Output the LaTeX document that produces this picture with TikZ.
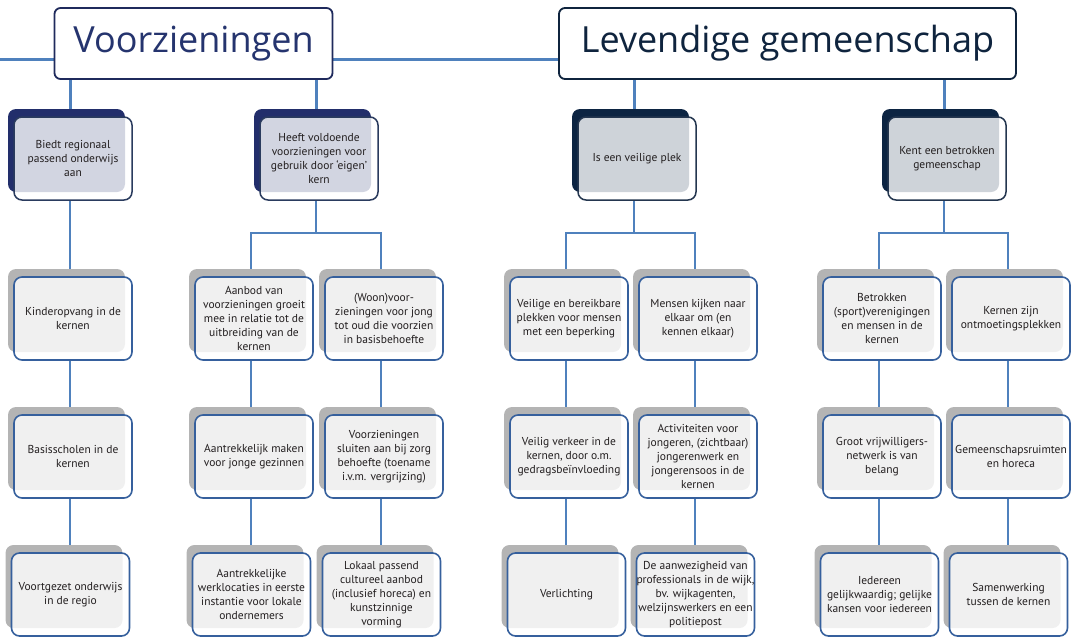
\documentclass[tikz,border=0pt]{standalone}
\usepackage{fontspec}
\setmainfont{PT Sans}
\newfontfamily\titlefont{Open Sans}
\usetikzlibrary{calc}
\pgfdeclarelayer{bg}
\pgfsetlayers{bg,main}
\definecolor{linkblue}{HTML}{4F81BD}
\definecolor{navyL}{HTML}{222E6B}
\definecolor{navyR}{HTML}{0C2442}
\definecolor{edgeL}{HTML}{2A3B5E}
\definecolor{edgeR}{HTML}{24364F}
\definecolor{greyback}{HTML}{B4B4B4}
\definecolor{blueedge}{HTML}{36609D}
\definecolor{txt}{HTML}{231F20}
\definecolor{voortext}{HTML}{25346E}
\definecolor{voorline}{HTML}{1F2A5C}
\definecolor{levtext}{HTML}{0F243E}
\tikzset{
  conn/.style={draw=linkblue, line width=2pt},
  topconn/.style={draw=linkblue, line width=3pt},
  card/.style={minimum width=124pt, minimum height=91pt, inner sep=0pt, outer sep=0pt},
  backbase/.style={rounded corners=8pt, minimum width=117pt, minimum height=83pt, inner sep=0pt, outer sep=0pt},
  frontbase/.style={rounded corners=8pt, minimum width=118pt, minimum height=83pt, inner sep=0pt, outer sep=0pt,
    fill=white, fill opacity=0.8, text opacity=1, align=center, font=\fontsize{11.5}{14}\selectfont, text=txt},
  backL/.style={backbase, fill=navyL},
  frontL/.style={frontbase, draw=edgeL, line width=1.5pt},
  backR/.style={backbase, fill=navyR},
  frontR/.style={frontbase, draw=edgeR, line width=1.5pt},
  backG/.style={backbase, fill=greyback},
  frontG/.style={frontbase, draw=blueedge, line width=1.6pt},
  topbox/.style={rounded corners=6pt, fill=white, line width=1.8pt, inner sep=0pt, minimum height=71pt,
    font=\titlefont\fontsize{36}{40}\selectfont},
}
\newcommand\mkcard[5]{%
  \node[card] (#1) at (#2,#3) {};
  \node[back#4] (#1-b) at ([shift={(-3.5,-4)}]#1.center) {};
  \node[front#4] (#1-f) at ([shift={(3,4)}]#1.center) {#5};
}
\begin{document}
\begin{tikzpicture}[x=1pt,y=-1pt]
\useasboundingbox (0,0) rectangle (1074,640);
% top boxes
\node[topbox, draw=voorline, text=voortext, minimum width=278pt] (voor) at (193.5,43.5) {\raisebox{-2pt}{Voorzieningen}};
\node[topbox, draw=levtext, text=levtext, minimum width=457pt] (lev) at (787.5,43.5) {\raisebox{-2pt}{Levendige gemeenschap}};
\coordinate (lstart) at (0,59.5);
\coordinate (brY) at (0,233);
% level 2
\mkcard{biedt}{70}{154.5}{L}{Biedt regionaal\\passend onderwijs\\aan}
\mkcard{heeft}{316}{154.5}{L}{Heeft voldoende\\voorzieningen voor\\gebruik door ‘eigen’\\kern}
\mkcard{veilig}{634}{154.5}{R}{Is een veilige plek}
\mkcard{kent}{944}{154.5}{R}{Kent een betrokken\\gemeenschap}
% column A
\mkcard{kinder}{70}{314.5}{G}{Kinderopvang in de\\kernen}
\mkcard{basis}{70}{452.5}{G}{Basisscholen in de\\kernen}
\mkcard{voortg}{67.5}{590.5}{G}{Voortgezet onderwijs\\in de regio}
% column B
\mkcard{aanbod}{251}{314.5}{G}{Aanbod van\\voorzieningen groeit\\mee in relatie tot de\\uitbreiding van de\\kernen}
\mkcard{jonge}{251}{452.5}{G}{Aantrekkelijk maken\\voor jonge gezinnen}
\mkcard{werk}{248.5}{590.5}{G}{Aantrekkelijke\\werklocaties in eerste\\instantie voor lokale\\ondernemers}
% column C
\mkcard{woon}{381}{314.5}{G}{(Woon)voor-\\zieningen voor jong\\tot oud die voorzien\\in basisbehoefte}
\mkcard{zorg}{381}{452.5}{G}{Voorzieningen\\sluiten aan bij zorg\\behoefte (toename\\i.v.m. vergrijzing)}
\mkcard{cult}{378.5}{590.5}{G}{Lokaal passend\\cultureel aanbod\\(inclusief horeca) en\\kunstzinnige\\vorming}
% column D
\mkcard{plekken}{566}{314.5}{G}{Veilige en bereikbare\\plekken voor mensen\\met een beperking}
\mkcard{verkeer}{566}{452.5}{G}{Veilig verkeer in de\\kernen, door o.m.\\gedragsbeïnvloeding}
\mkcard{licht}{563.5}{590.5}{G}{Verlichting}
% column E
\mkcard{mensen}{695}{314.5}{G}{Mensen kijken naar\\elkaar om (en\\kennen elkaar)}
\mkcard{activ}{695}{452.5}{G}{Activiteiten voor\\jongeren, (zichtbaar)\\jongerenwerk en\\jongerensoos in de\\kernen}
\mkcard{prof}{692.5}{590.5}{G}{De aanwezigheid van\\professionals in de wijk,\\bv. wijkagenten,\\welzijnswerkers en een\\politiepost}
% column F
\mkcard{betrok}{879}{314.5}{G}{Betrokken\\(sport)verenigingen\\en mensen in de\\kernen}
\mkcard{vrijw}{879}{452.5}{G}{Groot vrijwilligers-\\netwerk is van\\belang}
\mkcard{ieder}{876.5}{590.5}{G}{Iedereen\\gelijkwaardig; gelijke\\kansen voor iedereen}
% column G
\mkcard{ontm}{1008}{314.5}{G}{Kernen zijn\\ontmoetingsplekken}
\mkcard{gemr}{1008}{452.5}{G}{Gemeenschapsruimten\\en horeca}
\mkcard{samen}{1005.5}{590.5}{G}{Samenwerking\\tussen de kernen}
% connectors
\begin{pgfonlayer}{bg}
\draw[topconn] (lstart) -- (lstart -| lev.west);
\draw[topconn] (biedt |- voor.center) -- (biedt);
\draw[topconn] (heeft |- voor.center) -- (heeft);
\draw[topconn] (veilig |- lev.center) -- (veilig);
\draw[topconn] (kent |- lev.center) -- (kent);
\draw[conn] (biedt) -- (kinder);
\draw[conn] (heeft) -- (heeft |- brY) -| (aanbod);
\draw[conn] (heeft |- brY) -| (woon);
\draw[conn] (veilig) -- (veilig |- brY) -| (plekken);
\draw[conn] (veilig |- brY) -| (mensen);
\draw[conn] (kent) -- (kent |- brY) -| (betrok);
\draw[conn] (kent |- brY) -| (ontm);
\foreach \a/\b/\c in {kinder/basis/voortg, aanbod/jonge/werk, woon/zorg/cult, plekken/verkeer/licht, mensen/activ/prof, betrok/vrijw/ieder, ontm/gemr/samen}{
  \draw[conn] (\a) -- (\b);
  \draw[conn] (\b) -- (\b |- \c);
}
\end{pgfonlayer}
\end{tikzpicture}
\end{document}
